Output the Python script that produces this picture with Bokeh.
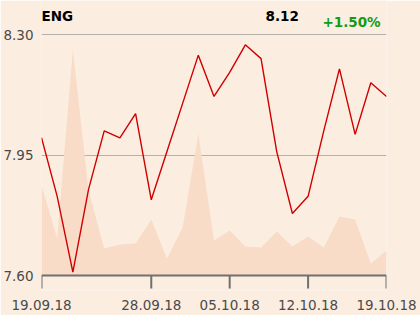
from bokeh.plotting import figure
from bokeh.models import Range1d, FixedTicker, Label, LinearAxis, CustomJSTickFormatter
from bokeh.embed import file_html
from bokeh.resources import INLINE

dates = ["19.09.18", "20.09.18", "21.09.18", "24.09.18", "25.09.18", "26.09.18",
         "27.09.18", "28.09.18", "01.10.18", "02.10.18", "03.10.18", "04.10.18",
         "05.10.18", "08.10.18", "09.10.18", "10.10.18", "11.10.18", "12.10.18",
         "15.10.18", "16.10.18", "17.10.18", "18.10.18", "19.10.18"]
close = [8.00, 7.83, 7.61, 7.85, 8.02, 8.00, 8.07, 7.82, 7.96, 8.10, 8.24, 8.12,
         8.19, 8.27, 8.23, 7.96, 7.78, 7.83, 8.02, 8.20, 8.01, 8.16, 8.12]
volume = [90, 37, 226, 85, 27, 31, 32, 56, 17, 48, 142, 35, 45, 29, 28, 44, 29, 39,
          28, 59, 56, 12, 25]
shown_dates = ["19.09.18", "28.09.18", "05.10.18", "12.10.18", "19.10.18"]
y_ticks = [7.60, 7.95, 8.30]
ticker_name = "ENG"
last_price = "8.12"
change = "+1.50%"

BG = "#FCEDE1"
AXIS = "#707070"
x = list(range(len(dates)))
tick_idx = [dates.index(d) for d in shown_dates]

px_per_unit = 241 / 0.70
y_min, y_max = y_ticks[0], y_ticks[-1]
y_top = y_max + 34 / px_per_unit          # room for the header texts
y_bot = y_min - 15 / px_per_unit          # room for the x tick marks

p = figure(width=420, height=315, output_backend="svg", toolbar_location=None,
           frame_width=345, frame_height=290,
           x_range=Range1d(0, len(dates) - 1), y_range=Range1d(y_bot, y_top),
           background_fill_color=BG, border_fill_color=BG,
           min_border_left=41, min_border_right=34, min_border_top=0,
           min_border_bottom=25, outline_line_color=None, x_axis_location=None,
           y_axis_location=None)

p.extra_y_ranges = {"vol": Range1d(-15, 275)}
p.varea(x=x, y1=[0] * len(x), y2=volume, y_range_name="vol", fill_color="#F8DCC8")
p.line(x=x, y=close, line_color="#D00000", line_width=1.4)

# x axis line and tick marks
p.segment(x0=[0], y0=[y_min], x1=[len(dates) - 1], y1=[y_min],
          line_color=AXIS, line_width=2)
p.segment(x0=tick_idx, y0=[y_min] * len(tick_idx), x1=tick_idx,
          y1=[y_min - 13 / px_per_unit] * len(tick_idx),
          line_color=AXIS, line_width=2)

yax = LinearAxis(ticker=FixedTicker(ticks=y_ticks))
yax.axis_line_color = None
yax.major_tick_line_color = None
yax.major_tick_out = 0
yax.major_tick_in = 0
yax.minor_tick_line_color = None
yax.major_label_standoff = 8
yax.major_label_text_font = "DejaVu Sans"
yax.major_label_text_font_size = "13.5px"
yax.major_label_text_color = "#4a4a4a"
yax.formatter = CustomJSTickFormatter(code="return tick.toFixed(2);")
p.add_layout(yax, "left")

xax = LinearAxis(ticker=FixedTicker(ticks=tick_idx),
                 major_label_overrides={i: d for i, d in zip(tick_idx, shown_dates)},
                 axis_line_color=None, major_tick_line_color=None,
                 major_tick_out=0, major_tick_in=0,
                 minor_tick_line_color=None, minor_tick_out=0,
                 major_label_standoff=9, major_label_text_font="DejaVu Sans",
                 major_label_text_font_size="13.5px",
                 major_label_text_color="#4a4a4a")
p.add_layout(xax, "below")

p.xgrid.visible = False
p.ygrid.ticker = FixedTicker(ticks=y_ticks[1:])
p.ygrid.grid_line_color = "#B5B0AA"

def yv(py):
    return y_max + (34 - py) / px_per_unit
def xv(px):
    return (px - 41) / (345 / (len(dates) - 1))

for txt, px, py, col in [(ticker_name, 41, 15.5, "#000000"),
                         (last_price, 265, 15.5, "#000000"),
                         (change, 322, 21.5, "#139C13")]:
    p.add_layout(Label(x=xv(px), y=yv(py), text=txt, text_font="DejaVu Sans",
                       text_font_style="bold", text_font_size="13.5px",
                       text_color=col, text_baseline="alphabetic"))

open("out.html", "w").write(file_html(p, INLINE))
